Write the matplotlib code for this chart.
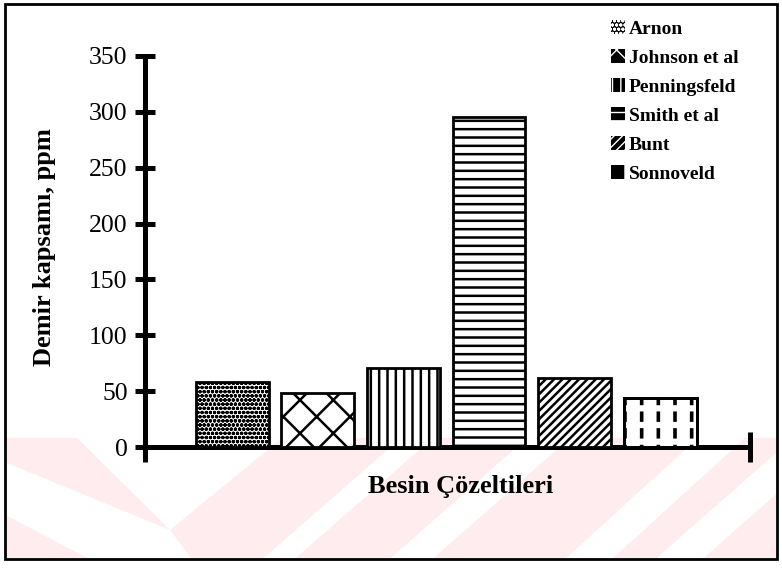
import matplotlib.pyplot as plt
from matplotlib.patches import Polygon, Rectangle, Patch

plt.rcParams['font.family'] = ['Liberation Serif', 'DejaVu Serif']

sources = ["Arnon", "Johnson et al", "Penningsfeld", "Smith et al", "Bunt", "Sonnoveld"]
iron_ppm = [58, 48, 71, 295, 62, 44]
hatches = ["oooo", "x", "||", "--", "////", "|"]
hatch_widths = [1.2, 1.8, 1.8, 1.8, 1.8, 2.6]
yticks = [0, 50, 100, 150, 200, 250, 300, 350]

W, H = 782, 568
fig = plt.figure(figsize=(W / 100, H / 100), dpi=100)


def px(x, y):
    # pixel position (origin top-left) -> figure fraction
    return (x / W, 1 - y / H)


# faint pink watermark band behind the plot
pink = (0.995, 0.925, 0.935)
band = Rectangle(px(6, 558), 770 / W, 120 / H, transform=fig.transFigure,
                 facecolor=pink, edgecolor='none', zorder=0)
fig.add_artist(band)
stripes = [
    [(77, 438), (282, 438), (170, 530)],
    [(0, 460), (170, 530), (200, 570), (110, 570), (0, 512)],
    [(250, 570), (282, 570), (433, 438), (401, 438)],
    [(377, 570), (420, 570), (570, 438), (527, 438)],
    [(553, 570), (600, 570), (745, 438), (698, 438)],
    [(643, 570), (690, 570), (840, 438), (793, 438)],
]
for s in stripes:
    p = Polygon([px(*q) for q in s], closed=True, transform=fig.transFigure,
                facecolor='white', edgecolor='none', zorder=0)
    p.set_clip_path(band)
    fig.add_artist(p)

# outer frame
fig.add_artist(Rectangle(px(5, 559), 772 / W, 555 / H, transform=fig.transFigure,
                         fill=False, edgecolor='black', linewidth=2, zorder=5))

ax = fig.add_axes([145 / W, 1 - 447 / H, 605 / W, 391 / H])
ax.patch.set_alpha(0)

x = list(range(len(sources)))
bars = ax.bar(x, iron_ppm, width=0.85, facecolor='white', edgecolor='black',
              linewidth=2, hatch=hatches, zorder=3)
for b, hw in zip(bars, hatch_widths):
    if hasattr(b, 'set_hatch_linewidth'):
        b.set_hatch_linewidth(hw)

# break the Sonnoveld lines into short dashes
gap = ax.bar(x[-1:], iron_ppm[-1:], width=0.8, facecolor='none', edgecolor='white',
             linewidth=0, hatch='-', zorder=4)
for b in gap:
    if hasattr(b, 'set_hatch_linewidth'):
        b.set_hatch_linewidth(4.5)
ax.bar(x[-1:], iron_ppm[-1:], width=0.85, facecolor='none', edgecolor='black',
       linewidth=2, zorder=5)

ax.set_xlim(-1.02, 6.05)
ax.set_ylim(0, 350)
ax.set_yticks(yticks)
ax.set_xticks([-1.02, 6.05])
ax.set_xticklabels([])
for side in ['top', 'right']:
    ax.spines[side].set_visible(False)
for side in ['left', 'bottom']:
    ax.spines[side].set_linewidth(3.6)
ax.tick_params(axis='y', direction='inout', length=15, width=3.6, pad=5, labelsize=18.5)
ax.tick_params(axis='x', direction='inout', length=21, width=3.6)

fig.text(*px(461, 486), "Besin Çözeltileri", ha='center', va='center',
         fontsize=19, fontweight='bold')
fig.text(*px(45, 247), "Demir kapsamı, ppm", ha='center', va='center',
         rotation=90, fontsize=19, fontweight='bold')

handles = [Patch(facecolor='black', edgecolor='white', hatch=h, linewidth=0) for h in hatches]
ax.legend(handles, sources, loc='upper left', bbox_to_anchor=px(611, 20),
          bbox_transform=fig.transFigure, frameon=False, borderpad=0,
          prop={'weight': 'bold', 'size': 14}, handlelength=0.72, handleheight=0.72,
          handletextpad=0.2, labelspacing=0.58, borderaxespad=0)

fig.savefig("out.png", dpi=100)
